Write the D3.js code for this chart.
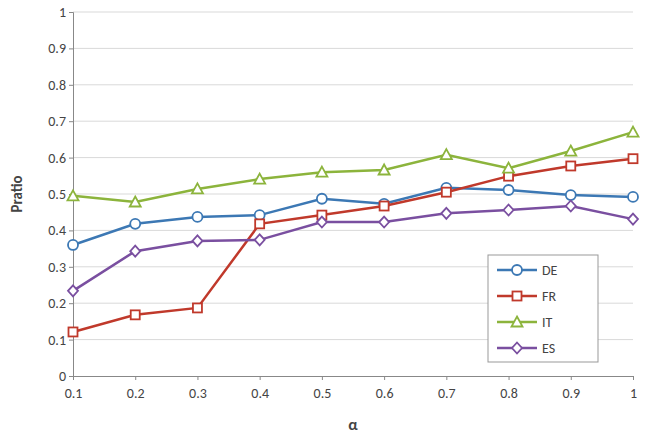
<!DOCTYPE html><html><head><script src="https://cdn.jsdelivr.net/npm/d3@7"></script>
<style>body{margin:0;background:#fff}text{font-family:Calibri,Carlito,"Liberation Sans",sans-serif}</style></head><body>
<svg id="c" width="645" height="436"></svg>
<script>
const alphas=[0.1,0.2,0.3,0.4,0.5,0.6,0.7,0.8,0.9,1];
const DE=[0.36,0.418,0.437,0.442,0.487,0.473,0.517,0.511,0.497,0.492];
const FR=[0.121,0.168,0.187,0.418,0.442,0.467,0.505,0.549,0.577,0.597];
const IT=[0.495,0.478,0.514,0.541,0.56,0.566,0.608,0.571,0.618,0.67];
const ES=[0.234,0.343,0.371,0.374,0.423,0.423,0.447,0.456,0.467,0.431];
const yTicks=[0,0.1,0.2,0.3,0.4,0.5,0.6,0.7,0.8,0.9,1];
const series=[{n:"DE",v:DE,c:"#3c78b4",m:"circle"},{n:"FR",v:FR,c:"#c0392b",m:"square"},{n:"IT",v:IT,c:"#8cb43c",m:"triangle"},{n:"ES",v:ES,c:"#7a4fa0",m:"diamond"}];
const svg=d3.select("#c");
const x=d3.scaleLinear().domain([0.1,1]).range([73,633]);
const y=d3.scaleLinear().domain([0,1]).range([376,12]);
svg.append("g").selectAll("line").data(yTicks.slice(1)).join("line").attr("x1",73).attr("x2",633).attr("y1",d=>y(d)).attr("y2",d=>y(d)).attr("stroke","#d9d9d9");
const ya=svg.append("g").attr("transform","translate(73,0)").call(d3.axisLeft(y).tickValues(yTicks).tickFormat(d3.format("")).tickSize(4));
const xa=svg.append("g").attr("transform","translate(0,376)").call(d3.axisBottom(x).tickValues(alphas).tickFormat(d3.format("")).tickSize(4));
[ya,xa].forEach(a=>{a.selectAll("path,line").attr("stroke","#888");a.selectAll("text").attr("font-size",14).attr("fill","#444");});
xa.selectAll("text").attr("dy","1.1em");
svg.append("text").attr("x",353).attr("y",430).attr("text-anchor","middle").attr("font-size",16).attr("font-weight","bold").attr("fill","#444").text("α");
svg.append("text").attr("transform","translate(22,194) rotate(-90)").attr("text-anchor","middle").attr("font-size",15).attr("font-weight","bold").attr("fill","#444").text("Pratio");
function mark(g,t,c){
 if(t=="circle")g.append("circle").attr("r",5);
 else if(t=="square")g.append("rect").attr("x",-4.5).attr("y",-4.5).attr("width",9).attr("height",9);
 else if(t=="triangle")g.append("path").attr("d","M0,-5.5L5.5,4.5L-5.5,4.5Z");
 else g.append("path").attr("d","M0,-5.5L5,0L0,5.5L-5,0Z");
 g.selectAll("*").attr("fill","#fff").attr("stroke",c).attr("stroke-width",1.8);
}
const line=d3.line().x((d,i)=>x(alphas[i])).y(d=>y(d));
series.forEach(s=>{
 svg.append("path").attr("d",line(s.v)).attr("fill","none").attr("stroke",s.c).attr("stroke-width",2.5);
 s.v.forEach((v,i)=>mark(svg.append("g").attr("transform",`translate(${x(alphas[i])},${y(v)})`),s.m,s.c));
});
const lg=svg.append("g");
lg.append("rect").attr("x",488).attr("y",255).attr("width",110).attr("height",107).attr("fill","#fff").attr("stroke","#999");
series.forEach((s,i)=>{const yy=270+i*26;
 lg.append("line").attr("x1",497).attr("x2",537).attr("y1",yy).attr("y2",yy).attr("stroke",s.c).attr("stroke-width",2.5);
 mark(lg.append("g").attr("transform",`translate(517,${yy})`),s.m,s.c);
 lg.append("text").attr("x",542).attr("y",yy+5).attr("font-size",14).attr("fill","#444").text(s.n);});
</script></body></html>
